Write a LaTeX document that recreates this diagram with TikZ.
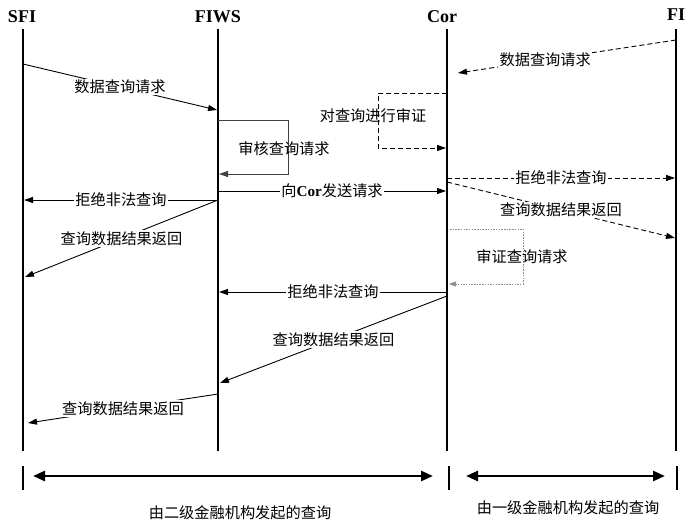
\documentclass[tikz,border=0pt]{standalone}
\usepackage{fontspec}
\setmainfont{Liberation Serif}
\newfontfamily\cjk{Noto Sans CJK SC}
\usetikzlibrary{arrows.meta}
\begin{document}
\begin{tikzpicture}[x=1pt,y=-1pt,
  head/.style={font=\bfseries\fontsize{18}{18}\selectfont, inner sep=0pt},
  life/.style={line width=2.8pt},
  msg/.style={-{Triangle[length=9pt,width=6pt]}, line width=0.9pt},
  dmsg/.style={msg, dash pattern=on 5pt off 3pt},
  lbl/.style={fill=white, inner sep=1.2pt, font=\cjk\fontsize{15.2}{15.2}\selectfont},
  note/.style={inner sep=0pt, font=\cjk\fontsize{15.2}{15.2}\selectfont},
  tick/.style={line width=2.4pt},
  span/.style={{Triangle[length=12pt,width=10pt]}-{Triangle[length=12pt,width=10pt]}, line width=2.6pt}
]
\useasboundingbox (0,0) rectangle (686,520);
% headers
\node[head] (SFI) at (22,17) {SFI};
\node[head] (FIWS) at (218,17) {FIWS};
\node[head] (Cor) at (442,17) {Cor};
\node[head] (FI) at (676,15) {FI};
% lifelines
\coordinate (sfiT) at (23,29); \coordinate (sfiB) at (23,451);
\coordinate (fiwsT) at (218,29); \coordinate (fiwsB) at (218,451);
\coordinate (corT) at (447,29); \coordinate (corB) at (447,451);
\coordinate (fiT) at (676,29); \coordinate (fiB) at (676,451);
\draw[life] (sfiT) -- (sfiB);
\draw[life] (fiwsT) -- (fiwsB);
\draw[life] (corT) -- (corB);
\draw[life] (fiT) -- (fiB);
% message 1
\coordinate (m1a) at (23,64); \coordinate (m1b) at (217,110);
\draw[msg] (m1a) -- node[lbl] (l1) {数据查询请求} (m1b);
% message 2
\coordinate (m2a) at (676,40); \coordinate (m2b) at (458,73);
\draw[dmsg] (m2a) -- node[lbl,pos=0.6] (l2) {数据查询请求} (m2b);
% Cor self check (dashed)
\coordinate (c1a) at (447,93); \coordinate (c1b) at (378,93);
\coordinate (c1c) at (378,148); \coordinate (c1d) at (446,148);
\draw[dmsg] (c1a) -- (c1b) -- (c1c) -- (c1d);
\node[note] (l3) at (373,116) {对查询进行审证};
% FIWS self check
\coordinate (f1a) at (218,120); \coordinate (f1b) at (288,120);
\coordinate (f1c) at (288,174); \coordinate (f1d) at (219,174);
\draw[msg, draw=black!75] (f1a) -- (f1b) -- (f1c) -- (f1d);
\node[note] (l4) at (284,149) {审核查询请求};
% message FIWS -> Cor
\coordinate (m5a) at (218,191); \coordinate (m5b) at (446,191);
\draw[msg] (m5a) -- node[lbl] (l5) {向{\fontspec{Liberation Serif}\bfseries Cor}发送请求} (m5b);
% Cor -> FI dashed
\coordinate (m6a) at (447,178); \coordinate (m6b) at (675,178);
\draw[dmsg] (m6a) -- node[lbl] (l6) {拒绝非法查询} (m6b);
\coordinate (m7a) at (447,182); \coordinate (m7b) at (675,238);
\draw[dmsg] (m7a) -- node[lbl] (l7) {查询数据结果返回} (m7b);
% FIWS -> SFI
\coordinate (m8a) at (218,200); \coordinate (m8b) at (24,200);
\draw[msg] (m8a) -- node[lbl] (l8) {拒绝非法查询} (m8b);
\coordinate (m9b) at (25,277);
\draw[msg] (m8a) -- node[lbl] (l9) {查询数据结果返回} (m9b);
% Cor self check (dotted)
\coordinate (c2a) at (450,229); \coordinate (c2b) at (523,229);
\coordinate (c2c) at (523,284); \coordinate (c2d) at (449,284);
\draw[-{Triangle[length=7pt,width=5pt]}, line width=0.6pt, draw=black!45, dash pattern=on 1.5pt off 1.2pt] (c2a) -- (c2b) -- (c2c) -- (c2d);
\node[note] (l10) at (522,257) {审证查询请求};
% Cor -> FIWS
\coordinate (m11a) at (447,292); \coordinate (m11b) at (219,292);
\draw[msg] (m11a) -- node[lbl] (l11) {拒绝非法查询} (m11b);
\coordinate (m12a) at (447,296); \coordinate (m12b) at (220,383);
\draw[msg] (m12a) -- node[lbl] (l12) {查询数据结果返回} (m12b);
% FIWS -> SFI
\coordinate (m13a) at (218,394); \coordinate (m13b) at (28,423);
\draw[msg] (m13a) -- node[lbl] (l13) {查询数据结果返回} (m13b);
% bottom spans
\coordinate (t1a) at (23,466); \coordinate (t1b) at (23,490);
\coordinate (t2a) at (449,466); \coordinate (t2b) at (449,490);
\coordinate (t3a) at (677,466); \coordinate (t3b) at (677,490);
\draw[tick] (t1a) -- (t1b);
\draw[tick] (t2a) -- (t2b);
\draw[tick] (t3a) -- (t3b);
\coordinate (s1a) at (33,476); \coordinate (s1b) at (433,476);
\coordinate (s2a) at (466,476); \coordinate (s2b) at (665,476);
\draw[span] (s1a) -- (s1b);
\draw[span] (s2a) -- (s2b);
\node[note] (b1) at (240,513) {由二级金融机构发起的查询};
\node[note] (b2) at (568,508) {由一级金融机构发起的查询};
\end{tikzpicture}
\end{document}
